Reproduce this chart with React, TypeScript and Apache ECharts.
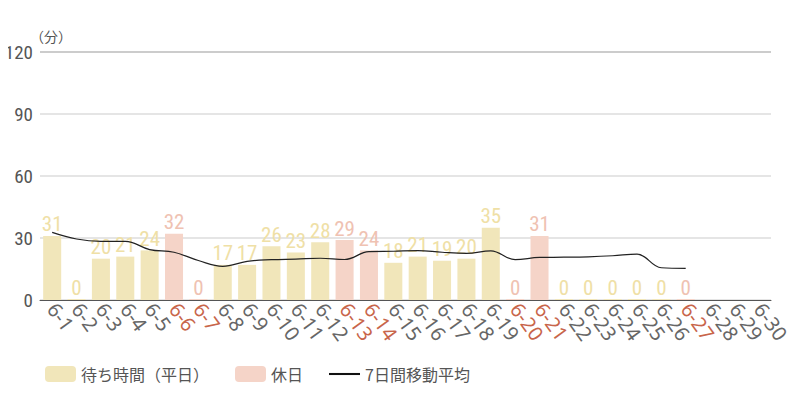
import React, { useEffect, useRef } from 'react';
import * as echarts from 'echarts';

// 日付ラベル
const days: string[] = Array.from({ length: 30 }, (_, i) => `6-${i + 1}`);
// 休日
const holidays: string[] = ['6-6', '6-7', '6-13', '6-14', '6-20', '6-21', '6-27'];

// 待ち時間（平日）
const weekdayWait: (number | null)[] = [
  31, 0, 20, 21, 24, null, null, 17, 17, 26, 23, 28, null, null, 18,
  21, 19, 20, 35, null, null, 0, 0, 0, 0, 0, null, null, null, null
];
// 休日
const holidayWait: (number | null)[] = [
  null, null, null, null, null, 32, 0, null, null, null, null, null, 29, 24, null,
  null, null, null, null, 0, 31, null, null, null, null, null, 0, null, null, null
];
// 7日間移動平均
const movingAvg: (number | null)[] = [
  32.7, 29.5, 28.4, 28.4, 24.4, 23.1, 19.1, 16.3, 18.7, 19.5, 19.8, 20.2, 19.6, 23.4, 23.6,
  23.9, 23.1, 22.6, 23.8, 19.5, 20.6, 20.7, 20.9, 21.4, 22.2, 15.6, 15.3, null, null, null
];

const yTicks = [0, 30, 60, 90, 120];

const NARROW = "'Roboto Condensed', 'Liberation Sans Narrow', Roboto, sans-serif";
const JP_FONT = "'Noto Sans CJK JP', sans-serif";

const App: React.FC = () => {
  const chartRef = useRef<HTMLDivElement>(null);

  useEffect(() => {
    if (!chartRef.current) return;
    const chart = echarts.init(chartRef.current, null, { renderer: 'svg' });

    const option: echarts.EChartsOption = {
      animation: false,
      textStyle: { fontFamily: NARROW },
      grid: { left: 40, right: 29, top: 52, bottom: 100 },
      legend: {
        left: 40,
        bottom: 13,
        itemWidth: 31,
        itemHeight: 16,
        itemGap: 26,
        textStyle: { fontFamily: JP_FONT, fontSize: 16, color: '#555' },
        data: [
          { name: '待ち時間（平日）' },
          { name: '休日' },
          { name: '7日間移動平均', icon: 'path://M0,0H30V2H0Z', itemStyle: { color: '#111' } }
        ]
      },
      xAxis: {
        type: 'category',
        data: days,
        axisLine: { lineStyle: { color: '#555', width: 1 } },
        axisTick: { show: false },
        axisLabel: {
          interval: 0,
          rotate: -54,
          fontFamily: "'Noto Sans', sans-serif",
          fontSize: 20,
          margin: 5,
          color: (value?: string | number) =>
            holidays.includes(String(value)) ? '#c8654a' : '#666'
        }
      },
      yAxis: {
        type: 'value',
        min: yTicks[0],
        max: yTicks[yTicks.length - 1],
        interval: 30,
        name: '（分）',
        nameLocation: 'end',
        nameGap: 8,
        nameTextStyle: { fontFamily: JP_FONT, fontSize: 14, color: '#555', align: 'left', padding: [0, 0, 0, -10] },
        axisLine: { show: false },
        axisTick: { show: false },
        axisLabel: { fontSize: 19, color: '#555', margin: 7 },
        splitLine: {
          lineStyle: { color: ['#ddd', '#ddd', '#ddd', '#ddd', '#bbb'], width: 1.5 }
        }
      },
      series: [
        {
          name: '待ち時間（平日）',
          type: 'bar',
          data: weekdayWait,
          barWidth: '74%',
          barGap: '-100%',
          barMinHeight: 1,
          itemStyle: { color: '#f1e6ba' },
          label: {
            show: true,
            position: 'top',
            distance: 1,
            fontSize: 21,
            color: '#efe0a6'
          }
        },
        {
          name: '休日',
          type: 'bar',
          data: holidayWait,
          barWidth: '74%',
          barMinHeight: 1,
          itemStyle: { color: '#f5d4c8' },
          label: {
            show: true,
            position: 'top',
            distance: 1,
            fontSize: 21,
            color: '#efc2b2'
          }
        },
        {
          name: '7日間移動平均',
          type: 'line',
          data: movingAvg,
          smooth: 0.4,
          symbol: 'none',
          lineStyle: { color: '#222', width: 1.2 },
          itemStyle: { color: '#222' }
        }
      ]
    };

    chart.setOption(option);
    return () => {
      chart.dispose();
    };
  }, []);

  return <div ref={chartRef} style={{ width: 800, height: 400, margin: -8 }} />;
};

export default App;
